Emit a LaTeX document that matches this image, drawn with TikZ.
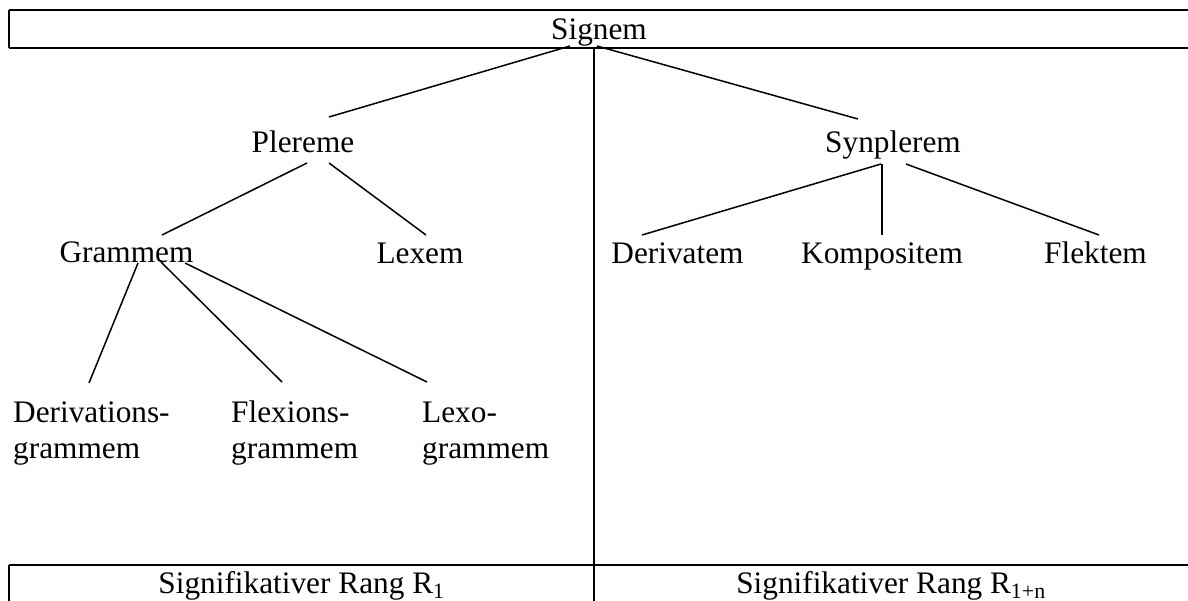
\documentclass[tikz,border=0pt]{standalone}
\usepackage{fontspec}
\setmainfont{Liberation Serif}
\begin{document}
\begin{tikzpicture}[x=1pt,y=-1pt,
  lbl/.style={inner sep=0pt, font=\fontsize{31.3}{36}\selectfont},
  edge/.style={line width=1.5pt},
  hrule/.style={line width=2.2pt},
  vrule/.style={line width=1.5pt}]
\useasboundingbox (0,0) rectangle (1188,600);
\fill[white] (0,0) rectangle (1188,600);
% table frame
\draw[hrule] (9,10) -- (1195,10);
\draw[hrule] (9,47.7) -- (1195,47.7);
\draw[vrule] (9,10) -- (9,47.7);
\draw[hrule] (9,565) -- (1195,565);
\draw[vrule] (9,565) -- (9,610);
\draw[vrule] (594,47.7) -- (594,610);
% nodes
\node[lbl, anchor=base] (sig) at (599,39) {Signem};
\node[lbl, anchor=base] (pler) at (303,152) {Plereme};
\node[lbl, anchor=base] (syn) at (893,152) {Synplerem};
\node[lbl, anchor=base] (gram) at (126.5,262) {Grammem};
\node[lbl, anchor=base] (lex) at (420,263) {Lexem};
\node[lbl, anchor=base] (der) at (677.5,263) {Derivatem};
\node[lbl, anchor=base] (komp) at (882,263) {Kompositem};
\node[lbl, anchor=base] (flek) at (1095.5,263) {Flektem};
\node[lbl, anchor=base west, align=left] (dg) at (13,458) {Derivations-\\grammem};
\node[lbl, anchor=base west, align=left] (fg) at (231,458) {Flexions-\\grammem};
\node[lbl, anchor=base west, align=left] (lg) at (422,458) {Lexo-\\grammem};
\node[lbl, anchor=base] (r1) at (301.5,593) {Signifikativer Rang R\textsubscript{1}};
\node[lbl, anchor=base] (rn) at (891,593) {Signifikativer Rang R\textsubscript{1+n}};
% connectors
\draw[edge] ([shift={(-29,7)}]sig.base) -- ([shift={(26,-35)}]pler.base);
\draw[edge] ([shift={(-2,7)}]sig.base) -- ([shift={(-35,-33)}]syn.base);
\draw[edge] ([shift={(4,11)}]pler.base) -- ([shift={(35.5,-27)}]gram.base);
\draw[edge] ([shift={(26,11)}]pler.base) -- ([shift={(6,-28)}]lex.base);
\draw[edge] ([shift={(-12,12)}]syn.base) -- ([shift={(-35.5,-28)}]der.base);
\draw[edge] ([shift={(-11,12)}]syn.base) -- ([shift={(0,-28)}]komp.base);
\draw[edge] ([shift={(13,12)}]syn.base) -- ([shift={(3.5,-28)}]flek.base);
\draw[edge] ([shift={(11.5,1)}]gram.base) -- ([shift={(76,-75)}]dg.base west);
\draw[edge] ([shift={(34.5,0)}]gram.base) -- ([shift={(51,-76)}]fg.base west);
\draw[edge] ([shift={(58.5,1)}]gram.base) -- ([shift={(5,-76)}]lg.base west);
\end{tikzpicture}
\end{document}
